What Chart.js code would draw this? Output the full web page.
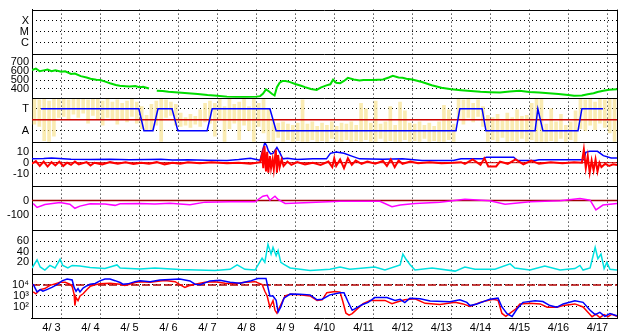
<!DOCTYPE html>
<html>
<head>
<meta charset="utf-8">
<script src="https://cdn.jsdelivr.net/npm/chart.js@4.4.1/dist/chart.umd.min.js"></script>
<style>
  html, body { margin: 0; padding: 0; background: #fff; }
  #wrap { width: 628px; height: 334px; }
</style>
</head>
<body>
<div id="wrap"><canvas id="chart" width="628" height="334"></canvas></div>
<script>
// time axis: days since 4/3 00:00
const dayLabels = ['4/ 3', '4/ 4', '4/ 5', '4/ 6', '4/ 7', '4/ 8', '4/ 9', '4/10',
                   '4/11', '4/12', '4/13', '4/14', '4/15', '4/16', '4/17'];

// tick labels per panel
const flareTicks = [1, 2, 3];
const flareLabels = ['C', 'M', 'X'];
const speedTicks = [400, 500, 600, 700];
const sectorTicks = [-1, 1];
const sectorLabels = ['A', 'T'];
const bzTicks = [-10, 0, 10];
const dstTicks = [-100, 0];
const idxTicks = [20, 40, 60];
const fluxTicks = [100, 1000, 10000];
const fluxLabels = ['10\u00b2', '10\u00b3', '10\u2074'];

// reference levels
const sectorBoundary = 0;
const bzZero = 0;
const dstZero = 0;
const fluxAlert = 10000;

// solar wind speed
const speedT = [0,0.1,0.2,0.3,0.4,0.5,0.6,0.75,0.85,1.0,1.1,1.25,1.4,1.5,1.65,1.75,1.9,2.0,2.15,2.25,2.4,2.5,2.65,2.75,2.85,3.0,3.1,3.2,3.35,3.5,3.75,4.0,4.25,4.5,4.75,5.0,5.25,5.5,5.75,5.85,5.92,6.0,6.08,6.15,6.22,6.28,6.35,6.42,6.5,6.6,6.75,6.9,7.0,7.15,7.3,7.4,7.55,7.65,7.72,7.8,7.9,8.0,8.1,8.25,8.4,8.5,8.75,9.0,9.15,9.25,9.4,9.5,9.6,9.75,10.0,10.25,10.5,10.75,11.0,11.25,11.5,11.75,12.0,12.25,12.5,12.75,13.0,13.25,13.5,13.75,13.9,14.1,14.25,14.4,14.5,14.65,14.8,15.0];
const speedV = [615,630,600,610,620,600,612,595,600,570,575,545,530,515,505,500,480,465,445,435,430,426,432,420,425,405,null,380,375,368,360,352,343,330,322,312,308,308,312,318,345,395,370,345,325,420,470,489,489,480,455,435,420,400,388,415,440,452,505,470,465,490,525,507,495,500,500,507,530,548,530,526,515,507,478,441,413,396,385,375,367,362,359,370,378,365,358,350,341,330,322,325,340,350,365,378,390,396];

// IMF sector (T = +1, A = -1)
const sectorT = [0.23,2.74,2.87,3.10,3.23,3.59,3.74,4.49,4.62,6.10,6.26,10.87,10.97,11.54,11.64,12.90,12.97,13.10,14.0,14.10,14.64];
const sectorV = [1,1,-1,-1,1,1,-1,-1,1,1,-1,-1,1,1,-1,-1,1,-1,-1,1,1];

// phi angle spread, 3-hour bins (low / high)
const yellowLo = [-0.4,-0.6,-1.9,-2.0,-1.5,0.2,0.3,0.0, 0.5,0.2,0.6,-0.3,0.4,0.1,-0.5,0.2,
  0.0,-0.4,0.1,-0.2,0.3,-0.3,-0.8,-0.9, -1.0,-0.5,-2.0,0.2,0.4,-0.5,-0.6,-0.5,
  -0.7,-0.4,-0.6,-0.2,-0.3,-1.5,0.0,-2.0, -0.8,-0.3,-1.8,-0.5,-1.0,-2.0,-0.6,-1.2,
  -2.0,-2.0,-1.6,-2.0,-1.8,-2.0,-1.9,-2.0, -2.0,-1.8,-2.0,-1.9,-2.0,-1.7,-2.0,-2.0,
  -1.8,-2.0,-1.9,-2.0,-1.8,-2.0,-2.0,-1.7, -2.0,-1.9,-2.0,-2.0,-1.8,-2.0,-1.9,-2.0,
  -1.7,-2.0,-1.9,-2.0,-2.0,-1.8,-2.0,0.0, -0.4,0.2,-0.2,0.3,-0.6,-2.0,-1.8,-2.0,
  -1.6,-2.0,-1.9,-2.0,-1.7,-2.0,-1.8,-2.0, -2.0,-2.0,-1.9,-2.0,-1.7,-2.0,-1.8,-2.0,
  -0.8,-1.0,-0.5,-0.9,-0.3,-0.7,-1.2,-2.0];
const yellowHi = [1.9,1.8,1.9,1.7,1.9,1.95,1.9,1.8, 1.95,1.9,1.95,1.8,1.9,1.85,1.7,1.9,
  1.6,1.8,1.5,1.7,1.9,1.6,1.2,0.4, 1.4,1.7,1.9,1.8,1.6,1.4,0.6,0.2,
  0.5,0.3,0.9,1.5,1.7,1.5,1.9,1.2, 1.9,1.4,1.6,1.9,1.2,1.9,1.5,1.9,
  1.0,0.0,-0.3,-0.2,-0.4,-0.5,-0.3,1.8, -0.4,-0.2,-0.6,-0.3,-0.5,-0.2,-0.6,-0.3,
  -0.4,-0.2,-0.5,1.5,1.0,-0.3,1.7,-0.4, -0.2,1.2,-0.5,1.6,0.8,-0.3,-0.4,-0.2,
  -0.5,-0.3,-0.6,-0.2,1.3,0.9,-0.4,1.9, 1.8,1.9,1.5,1.8,1.2,0.4,0.2,0.5,
  -0.1,0.6,0.2,0.9,0.3,0.4,1.5,1.9, 1.9,-0.4,1.0,-0.2,0.5,-0.5,-0.2,0.8,
  1.9,1.8,1.9,1.6,1.9,1.8,1.9,1.9];
const yellowBin = 0.125;

// IMF Bt (blue) and Bz (red)
const btT = [0,0.3,0.5,0.7,1.0,1.5,2.0,2.5,3.0,3.3,3.6,4.0,4.5,5.0,5.3,5.6,5.75,5.85,5.92,5.97,6.02,6.06,6.12,6.18,6.28,6.35,6.43,6.55,6.8,7.2,7.55,7.65,7.8,8.0,8.2,8.4,9.0,9.5,10.0,10.8,11.0,11.55,11.65,12.35,12.45,12.9,13.0,14.15,14.2,14.3,14.5,14.65,14.85,15.0];
const btV = [3.5,3.8,4.3,3.8,3.2,2.9,3.1,2.7,2.9,3.2,2.5,2.7,2.2,2.0,2.8,4.1,3.0,2.2,12,18.3,15.2,10.8,7.9,8.5,13.8,9.4,3.5,4.0,2.8,3.5,3.5,8.5,9.7,8.5,6.0,3.5,3.2,3.5,2.0,2.0,3.5,3.5,5.0,5.0,2.0,2.0,2.6,2.6,9.4,10.3,10.3,6.4,4.3,4.3];
const bzT = [0,0.1,0.2,0.3,0.4,0.5,0.6,0.7,0.8,0.9,1.0,1.1,1.2,1.4,1.5,1.6,1.8,2.0,2.2,2.4,2.6,2.8,3.0,3.2,3.4,3.6,3.8,4.0,4.3,4.6,5.0,5.3,5.6,5.85,5.9,5.93,5.96,6.0,6.03,6.06,6.1,6.13,6.17,6.2,6.25,6.28,6.31,6.35,6.4,6.45,6.55,6.65,6.8,7.0,7.2,7.4,7.6,7.7,7.75,7.8,7.9,8.0,8.1,8.2,8.3,8.45,8.6,8.8,9.0,9.1,9.2,9.3,9.4,9.5,9.7,9.9,10.2,10.5,10.8,11.0,11.1,11.3,11.5,11.6,11.7,11.9,12.0,12.2,12.4,12.6,12.8,13.0,13.3,13.6,13.9,14.1,14.15,14.2,14.25,14.3,14.35,14.4,14.45,14.5,14.55,14.6,14.7,14.8,14.9,15.0];
const bzV = [-1,1.5,-3,1,-3.5,0.5,-2.5,1,-3,0,-2,1,-1.5,0.5,-2.5,0,-1.5,0.5,-1,0.3,-1.2,0,-1,0.5,-1.5,0,-1,0.3,-0.5,0.5,-0.5,0,-1,0.5,8,-5,15,-8,10,-9,6,-5,3,-6,12,-9,7,-4,3,-3,1,-2,0.5,-1.5,0,-2,1,-4,4,-3,3,-5,4,-2,2,-1,1,-1,1.5,-3,3,-4,2,-1,1,-0.5,0.5,-0.5,0,0.5,-1,3,-2,4,-3.4,-3.4,1,-1,3,-1.5,2,-1,0.5,-0.5,0.3,0,12,-5,6,-9,2,-7,3,-8,0,-4,-1,-3,-1.5,-2];

// Dst (magenta)
const dstT = [0.03,0.13,0.33,0.72,0.97,1.10,1.23,1.49,1.87,2.13,2.26,2.77,3.15,3.54,4.05,4.44,5.08,5.72,5.92,6.03,6.10,6.23,6.31,6.49,7.13,7.90,8.92,9.23,9.44,9.82,10.46,11.10,11.74,12.13,12.77,13.54,14.05,14.31,14.46,14.64,15.0];
const dstV = [-20,-47,-27,-13,-25,-53,-38,-22,-24,-33,-22,-20,-24,-18,-29,-11,-9,-9,29,35,2,29,7,-20,-13,-5,-5,-42,-30,-20,-12,9,-2,-25,-9,-2,13,2,-64,-31,-20];

// activity index (cyan)
const idxT = [0,0.13,0.21,0.33,0.46,0.59,0.72,0.79,0.92,1.03,1.23,1.49,1.87,2.18,2.26,2.77,3.15,3.79,4.69,5.08,5.26,5.46,5.72,5.90,5.97,6.05,6.13,6.18,6.26,6.31,6.38,6.46,6.62,7.13,7.64,7.90,8.15,8.79,9.05,9.44,9.51,9.59,9.69,9.82,10.26,10.85,11.10,11.36,11.87,12.26,12.38,12.77,13.15,13.54,13.92,14.05,14.13,14.31,14.44,14.51,14.59,14.67,14.74,14.82,15.0];
const idxV = [8,24,10,4,13,8,25,13,8,13,12,9,7,14,8,6,8,5,3,5.5,14,5.5,4,27,19,54,35,48,32,42,19,15,8,3,5.5,10,5.5,10,4,14,35,25,15,4,8,2,10,5.5,5.5,16,8,4,12,4,7,13,4,8,48,26,35,7,19,5.5,4];

// electron flux, two channels
const fluxBlueT = [0.03,0.08,0.13,0.21,0.28,0.38,0.51,0.64,0.77,0.90,1.03,1.08,1.13,1.18,1.23,1.31,1.41,1.49,1.62,1.74,1.87,2.00,2.13,2.26,2.33,2.46,2.64,2.77,3.03,3.28,3.54,3.79,4.05,4.18,4.31,4.56,4.82,5.08,5.33,5.59,5.79,6.00,6.05,6.10,6.18,6.26,6.31,6.38,6.46,6.62,6.87,7.13,7.31,7.44,7.64,7.90,8.00,8.10,8.21,8.31,8.46,8.62,8.79,9.10,9.31,9.44,9.56,9.69,9.95,10.21,10.72,10.97,11.15,11.23,11.41,11.74,11.95,12.05,12.18,12.31,12.44,12.59,12.90,13.10,13.28,13.46,13.62,13.92,14.13,14.31,14.44,14.56,14.69,14.82,15.00];
const fluxBlueV = [11750,5250,2340,3800,2690,3800,6030,10500,23400,34700,28200,6030,2690,4680,2340,5250,8510,11750,13500,23400,34700,34700,24500,16600,11750,12600,20000,24500,20000,28200,31600,34700,23400,11750,10500,23400,26300,17400,14450,22400,38900,38900,6030,1000,1000,398,35,100,631,1480,1410,1260,447,501,1260,1950,1950,316,50,79,158,263,708,708,398,501,251,631,562,355,295,447,263,135,190,513,631,100,25,14,69,263,372,316,135,95,190,372,263,50,20,32,14,25,16];
const fluxRedT = [0.03,0.10,0.21,0.33,0.46,0.59,0.72,0.85,0.97,1.03,1.08,1.10,1.13,1.18,1.23,1.31,1.41,1.49,1.62,1.74,2.00,2.26,2.38,2.51,2.64,2.77,3.03,3.28,3.41,3.67,3.79,3.92,4.05,4.18,4.44,4.69,4.95,5.21,5.46,5.72,5.90,5.97,6.03,6.10,6.18,6.23,6.28,6.33,6.41,6.49,6.62,6.87,7.13,7.31,7.44,7.56,7.77,7.90,7.97,8.05,8.13,8.21,8.36,8.49,8.67,9.05,9.23,9.36,9.56,9.82,10.08,10.46,10.85,11.05,11.23,11.49,11.82,11.95,12.05,12.15,12.26,12.41,12.51,12.77,13.03,13.21,13.46,13.62,13.92,14.13,14.26,14.36,14.46,14.56,14.67,14.77,14.87,15.00];
const fluxRedV = [2340,1580,3800,4680,9120,12600,17400,17400,11750,7410,1410,135,708,372,1000,1580,3800,7410,10500,12600,14450,11750,9120,11750,16600,20000,17400,23400,25100,20000,10500,6030,9120,11750,17400,20000,14100,12600,17800,20000,11000,2690,1000,95,372,50,27,69,263,1000,1410,1290,1000,398,447,2000,2510,2240,316,27,18,25,79,200,398,398,200,282,447,562,214,166,263,190,110,263,513,398,26,14,28,69,190,214,190,95,95,135,190,100,32,13,22,11,20,13,22,14];

const font = { family: '"Liberation Sans", Arial, Helvetica, sans-serif', size: 11 };
const pts = (ts, vs) => ts.map((t, i) => ({ x: t, y: vs[i] }));
const level = v => [{ x: 0, y: v }, { x: dayLabels.length, y: v }];

const line = (axis, data, color, width, order, extra) => Object.assign({
  type: 'line', yAxisID: axis, data: data, borderColor: color, borderWidth: width,
  pointRadius: 0, fill: false, tension: 0, order: order
}, extra || {});

function panelAxis(min, max, tickVals, tickText, weight, type) {
  return {
    type: type || 'linear',
    position: 'left',
    stack: 'panels',
    stackWeight: 1,
    weight: weight,
    min: min,
    max: max,
    afterBuildTicks: scale => { scale.ticks = tickVals.map(v => ({ value: v })); },
    afterFit: scale => { scale.width = 32; },
    ticks: { font, color: '#000', padding: 3, autoSkip: false, callback: (v, i) => tickText[i] },
    grid: { color: '#000', lineWidth: 1, drawTicks: false },
    border: { display: true, color: '#000', width: 1, dash: [1, 3] }
  };
}

const panelIds = ['yFlare', 'ySpeed', 'ySector', 'yBz', 'yDst', 'yIdx', 'yFlux'];

// solid separators between panels and the right frame edge
const panelFrame = {
  id: 'panelFrame',
  afterDraw(chart) {
    const { ctx, chartArea: a } = chart;
    ctx.save();
    ctx.strokeStyle = '#000';
    ctx.lineWidth = 1;
    ctx.beginPath();
    panelIds.forEach(id => {
      const y = Math.round(chart.scales[id].top) + 0.5;
      ctx.moveTo(a.left, y);
      ctx.lineTo(a.right, y);
    });
    const xr = Math.round(a.right) + 0.5;
    ctx.moveTo(xr, a.top);
    ctx.lineTo(xr, a.bottom);
    ctx.stroke();
    ctx.restore();
  }
};

const yellowData = yellowLo.map((lo, i) => ({ x: yellowBin / 2 + i * yellowBin, y: [lo, yellowHi[i]] }));

new Chart(document.getElementById('chart'), {
  type: 'line',
  data: {
    datasets: [
      line('ySpeed', pts(speedT, speedV), '#00dd00', 2, 1),
      { type: 'bar', yAxisID: 'ySector', data: yellowData, backgroundColor: 'rgba(247,222,130,0.62)',
        barThickness: 3, borderWidth: 0, order: 10 },
      line('ySector', level(sectorBoundary), '#cc0000', 1.5, 5),
      line('ySector', pts(sectorT, sectorV), '#0000ff', 1.5, 1),
      line('yBz', level(bzZero), '#cc0000', 1, 6),
      line('yBz', pts(btT, btV), '#0000ff', 1.5, 3),
      line('yBz', pts(bzT, bzV), '#ff0000', 2, 2),
      line('yDst', level(dstZero), '#a00000', 1.5, 5),
      line('yDst', pts(dstT, dstV), '#ff00ff', 1.5, 1),
      line('yIdx', pts(idxT, idxV), '#00e0e0', 1.5, 1),
      line('yFlux', level(fluxAlert), '#b00000', 1.5, 6, { borderDash: [8, 3] }),
      line('yFlux', pts(fluxRedT, fluxRedV), '#ff0000', 1.5, 3),
      line('yFlux', pts(fluxBlueT, fluxBlueV), '#0000ff', 1.5, 2)
    ]
  },
  options: {
    responsive: false,
    animation: false,
    events: [],
    layout: { padding: { top: 2, right: 11, bottom: 0, left: 0 } },
    plugins: { legend: { display: false }, tooltip: { enabled: false } },
    scales: {
      x: {
        type: 'linear',
        position: 'bottom',
        min: 0,
        max: dayLabels.length,
        offset: false,
        afterBuildTicks: scale => {
          const t = [];
          dayLabels.forEach((_, i) => { t.push({ value: i }, { value: i + 0.5 }); });
          t.push({ value: dayLabels.length });
          scale.ticks = t;
        },
        afterFit: scale => { scale.height = 16; },
        ticks: { font, color: '#000', padding: 3, autoSkip: false, maxRotation: 0,
                 callback: (v, i) => (i % 2 === 1 ? dayLabels[(i - 1) / 2] : '') },
        grid: { color: c => (c.index % 2 === 0 ? '#000' : 'rgba(0,0,0,0)'), lineWidth: 1, drawTicks: false },
        border: { display: true, color: '#000', width: 1, dash: [1, 3] }
      },
      yFlare: panelAxis(0, 4, flareTicks, flareLabels, 7),
      ySpeed: panelAxis(300, 800, speedTicks, speedTicks.map(String), 6),
      ySector: panelAxis(-2, 2, sectorTicks, sectorLabels, 5),
      yBz: panelAxis(-21, 19, bzTicks, bzTicks.map(String), 4),
      yDst: panelAxis(-200, 100, dstTicks, dstTicks.map(String), 3),
      yIdx: panelAxis(-3.5, 82, idxTicks, idxTicks.map(String), 2),
      yFlux: panelAxis(10, 100000, fluxTicks, fluxLabels, 1, 'logarithmic')
    }
  },
  plugins: [panelFrame]
});
</script>
</body>
</html>
